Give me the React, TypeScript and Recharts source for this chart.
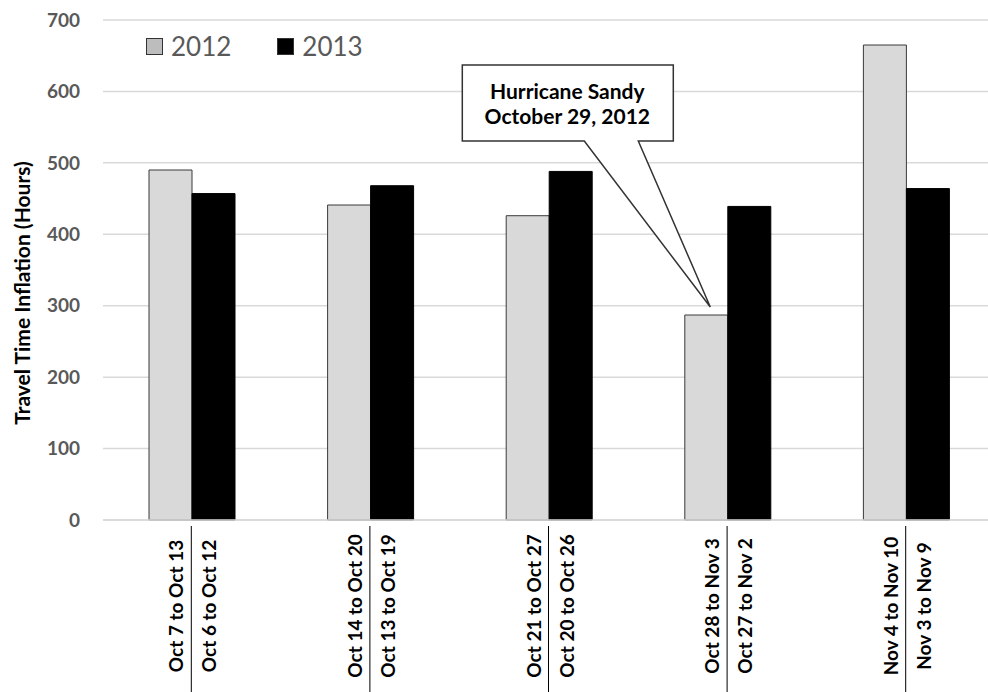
import React from "react";
import {
  Bar,
  BarChart,
  CartesianGrid,
  LabelList,
  Legend,
  XAxis,
  YAxis,
} from "recharts";

const weeks2012 = [
  "Oct 7 to Oct 13",
  "Oct 14 to Oct 20",
  "Oct 21 to Oct 27",
  "Oct 28 to Nov 3",
  "Nov 4 to Nov 10",
];
const weeks2013 = [
  "Oct 6 to Oct 12",
  "Oct 13 to Oct 19",
  "Oct 20 to Oct 26",
  "Oct 27 to Nov 2",
  "Nov 3 to Nov 9",
];
const hours2012 = [490, 441, 426, 287, 665];
const hours2013 = [457, 468, 488, 439, 464];
const yTicks = [0, 100, 200, 300, 400, 500, 600, 700];

// week that holds the storm
const SANDY_INDEX = 3;

const FONT = "Lato, 'Open Sans', sans-serif";
const LIGHT = "#D9D9D9";
const DARK = "#000000";
const EDGE = "#3A3A3A";
const GRID = "#D9D9D9";

const data = weeks2012.map((w, i) => ({
  week: w,
  week2013: weeks2013[i],
  y2012: hours2012[i],
  y2013: hours2013[i],
}));

function WeekTick(props: any) {
  const { x, y, payload } = props;
  const i = payload?.index ?? props.index ?? 0;
  const midY = y + 86;
  const left = x - 9;
  const right = x + 24;
  const textProps = {
    fontFamily: FONT,
    fontWeight: 700,
    fontSize: 19,
    fill: "#000",
    textAnchor: "middle" as const,
  };
  return (
    <g>
      <line x1={x - 1} x2={x - 1} y1={y + 6} y2={y + 172} stroke="#000" strokeWidth={1} />
      <text {...textProps} x={left} y={midY} transform={`rotate(-90, ${left}, ${midY})`}>
        {weeks2012[i]}
      </text>
      <text {...textProps} x={right} y={midY} transform={`rotate(-90, ${right}, ${midY})`}>
        {weeks2013[i]}
      </text>
    </g>
  );
}

function SandyCallout(props: any) {
  const { x, y, width, index } = props;
  if (index !== SANDY_INDEX) return null;
  const tx = x + width / 2 + 4;
  const ty = y - 8;
  const d = [
    `M${tx - 248},${ty - 242}`,
    `L${tx - 37},${ty - 242}`,
    `L${tx - 37},${ty - 166}`,
    `L${tx - 72},${ty - 166}`,
    `L${tx},${ty}`,
    `L${tx - 126},${ty - 166}`,
    `L${tx - 248},${ty - 166}`,
    "Z",
  ].join(" ");
  const label = {
    textAnchor: "middle" as const,
    fontFamily: FONT,
    fontWeight: 700,
    fontSize: 21,
    fill: "#000",
  };
  return (
    <g>
      <path d={d} fill="#fff" stroke="#333" strokeWidth={1.5} strokeLinejoin="miter" />
      <text {...label} x={tx - 143} y={ty - 208}>
        Hurricane Sandy
      </text>
      <text {...label} x={tx - 143} y={ty - 183}>
        October 29, 2012
      </text>
    </g>
  );
}

function YearLegend() {
  const items = [
    { label: "2012", fill: "#BDBDBD" },
    { label: "2013", fill: DARK },
  ];
  return (
    <div style={{ display: "flex", alignItems: "center", fontFamily: FONT }}>
      {items.map((it) => (
        <div key={it.label} style={{ display: "flex", alignItems: "center", marginRight: 46 }}>
          <span
            style={{
              display: "inline-block",
              width: 15,
              height: 15,
              background: it.fill,
              border: "1.5px solid #333",
              marginRight: 8,
            }}
          />
          <span style={{ fontSize: 26, color: "#595959", lineHeight: "28px" }}>{it.label}</span>
        </div>
      ))}
    </div>
  );
}

export default function App() {
  return (
    <div
      style={{
        position: "absolute",
        left: 0,
        top: 0,
        width: 988,
        height: 692,
        overflow: "hidden",
        background: "#fff",
      }}
    >
      <BarChart
        width={1000}
        height={692}
        data={data}
        margin={{ top: 20, right: 4, bottom: 0, left: 0 }}
        barGap={0}
      >
        <CartesianGrid vertical={false} stroke={GRID} strokeWidth={1.5} />
        <XAxis
          dataKey="week"
          height={172}
          interval={0}
          tickLine={false}
          tickSize={0}
          tickMargin={0}
          axisLine={{ stroke: GRID, strokeWidth: 1.5 }}
          tick={<WeekTick />}
        />
        <YAxis
          width={103}
          domain={[0, 700]}
          ticks={yTicks}
          interval={0}
          axisLine={false}
          tickLine={false}
          tickSize={6}
          tickMargin={17}
          tick={{ fill: "#595959", fontSize: 19, fontWeight: 700, fontFamily: FONT }}
          label={{
            content: ({ viewBox }: any) => {
              const cx = (viewBox?.x ?? 0) + 30;
              const cy = (viewBox?.y ?? 20) + (viewBox?.height ?? 500) / 2 + 23;
              return (
                <text
                  x={cx}
                  y={cy}
                  transform={`rotate(-90, ${cx}, ${cy})`}
                  textAnchor="middle"
                  fontFamily={FONT}
                  fontWeight={700}
                  fontSize={21}
                  fill="#000"
                >
                  Travel Time Inflation (Hours)
                </text>
              );
            },
          }}
        />
        <Legend
          layout="horizontal"
          verticalAlign="middle"
          align="center"
          content={<YearLegend />}
          wrapperStyle={{ top: 32, left: 146, width: "auto", height: "auto" }}
        />
        <Bar
          dataKey="y2012"
          name="2012"
          fill={LIGHT}
          stroke={EDGE}
          strokeWidth={1}
          barSize={43}
          isAnimationActive={false}
        >
          <LabelList dataKey="y2012" content={<SandyCallout />} />
        </Bar>
        <Bar
          dataKey="y2013"
          name="2013"
          fill={DARK}
          stroke={DARK}
          strokeWidth={1}
          barSize={43}
          isAnimationActive={false}
        />
      </BarChart>
    </div>
  );
}
